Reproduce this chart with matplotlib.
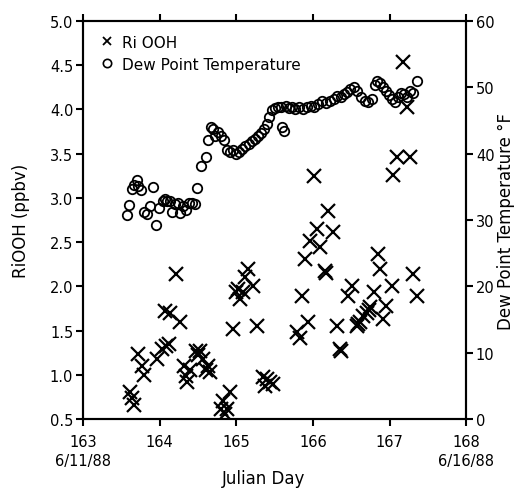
"""RiOOH and dew point temperature vs Julian day."""

import matplotlib
matplotlib.use("Agg")
import matplotlib.pyplot as plt
from matplotlib.lines import Line2D

# RiOOH (ppbv)
rooh_day = [
    163.61, 163.64, 163.67, 163.72, 163.77, 163.80, 163.97, 164.03, 164.07, 164.09,
    164.12, 164.14, 164.21, 164.27, 164.32, 164.35, 164.36, 164.40, 164.48, 164.50,
    164.53, 164.56, 164.60, 164.63, 164.66,
    164.80, 164.83, 164.85, 164.88, 164.92, 164.96, 165.00, 165.02, 165.05, 165.09,
    165.11, 165.15, 165.22, 165.27, 165.35, 165.37, 165.40, 165.44, 165.48,
    165.79, 165.83, 165.86, 165.90, 165.94, 165.96, 166.02, 166.05, 166.09, 166.16,
    166.17, 166.20, 166.26, 166.32, 166.35, 166.37, 166.46, 166.51,
    166.57, 166.59, 166.62, 166.66, 166.70, 166.73, 166.75, 166.80, 166.85, 166.88,
    166.92, 166.96, 167.03, 167.05, 167.10, 167.18, 167.23, 167.27, 167.31, 167.36,
]
rooh_ppbv = [
    0.81, 0.74, 0.66, 1.23, 1.10, 1.00, 1.18, 1.29, 1.72, 1.33,
    1.35, 1.70, 2.14, 1.60, 1.10, 0.99, 0.92, 1.05, 1.27, 1.22,
    1.27, 1.18, 1.05, 1.10, 1.03,
    0.61, 0.70, 0.56, 0.61, 0.81, 1.52, 1.94, 1.97, 1.86, 1.94,
    2.11, 2.20, 2.00, 1.55, 0.97, 0.87, 0.95, 0.92, 0.90,
    1.48, 1.42, 1.89, 2.31, 1.60, 2.51, 3.25, 2.65, 2.44, 2.17,
    2.15, 2.85, 2.61, 1.55, 1.29, 1.27, 1.89, 2.00,
    1.55, 1.57, 1.60, 1.66, 1.70, 1.73, 1.77, 1.94, 2.37, 2.20,
    1.63, 1.78, 2.00, 3.26, 3.46, 4.54, 4.03, 3.46, 2.14, 1.89,
]

# dew point temperature (deg F)
dew_day = [
    163.58, 163.60, 163.64, 163.67, 163.70, 163.72, 163.76, 163.79, 163.84, 163.87,
    163.91, 163.95, 163.99, 164.04, 164.07, 164.10, 164.14, 164.16, 164.20, 164.24,
    164.27, 164.31, 164.34, 164.38, 164.42, 164.46, 164.49, 164.54, 164.60, 164.63,
    164.67, 164.70, 164.72, 164.76, 164.80, 164.84, 164.88, 164.92, 164.96, 165.00,
    165.04, 165.08, 165.12, 165.16, 165.20, 165.24, 165.28, 165.32, 165.36, 165.40,
    165.43, 165.46, 165.50, 165.60, 165.62, 165.54, 165.58, 165.65, 165.69, 165.73,
    165.77, 165.82, 165.87, 165.92, 165.97, 166.02, 166.07, 166.12, 166.17, 166.22,
    166.27, 166.32, 166.37, 166.41, 166.45, 166.49, 166.53, 166.58, 166.63, 166.68,
    166.72, 166.77, 166.81, 166.84, 166.88, 166.91, 166.95, 166.99, 167.03, 167.07,
    167.11, 167.15, 167.19, 167.23, 167.27, 167.31, 167.36,
]
dew_temp = [
    30.8, 32.2, 34.7, 35.3, 36.0, 35.2, 34.6, 31.2, 30.9, 32.1,
    35.0, 29.2, 31.8, 32.9, 33.2, 32.8, 32.9, 31.2, 32.4, 32.5,
    31.1, 32.1, 31.5, 32.5, 32.6, 32.4, 34.8, 38.1, 39.5, 42.1,
    44.0, 43.7, 42.7, 43.3, 42.6, 42.1, 40.6, 40.3, 40.6, 40.0,
    40.3, 40.7, 41.2, 41.5, 41.9, 42.2, 42.7, 43.1, 43.7, 44.5,
    45.6, 46.6, 46.9, 44.0, 43.4, 47.1, 47.0, 47.2, 46.9, 47.0,
    46.8, 47.0, 46.7, 47.1, 47.2, 47.0, 47.5, 47.9, 47.6, 48.0,
    48.3, 48.7, 48.6, 49.0, 49.3, 49.8, 50.0, 49.4, 48.6, 48.0,
    47.8, 48.3, 50.4, 51.0, 50.6, 50.0, 49.4, 48.8, 48.2, 47.8,
    48.6, 49.2, 49.0, 48.6, 49.4, 49.2, 50.9,
]

day_ticks = [163, 164, 165, 166, 167, 168]
left_ticks = [0.5, 1.0, 1.5, 2.0, 2.5, 3.0, 3.5, 4.0, 4.5, 5.0]
right_ticks = [0, 10, 20, 30, 40, 50, 60]


def main() -> int:
    fig = plt.figure(figsize=(5.25, 4.89), dpi=100)
    ax = fig.add_axes([0.158, 0.141, 0.730, 0.814])
    ax2 = ax.twinx()

    ax.plot(rooh_day, rooh_ppbv, linestyle="none", marker="x", ms=10, mew=1.6,
            color="black", zorder=3)
    ax2.plot(dew_day, dew_temp, linestyle="none", marker="o", ms=6.8, mew=1.3,
             mfc="none", mec="black", zorder=3)

    ax.set_xlim(163, 168)
    ax.set_ylim(0.5, 5.0)
    ax2.set_ylim(0, 60)

    ax.set_xticks(day_ticks)
    ax.set_xticklabels([str(d) for d in day_ticks])
    ax.set_yticks(left_ticks)
    ax.set_yticklabels([f"{v:.1f}" for v in left_ticks])
    ax2.set_yticks(right_ticks)

    for a in (ax, ax2):
        for sp in a.spines.values():
            sp.set_linewidth(1.5)
        a.tick_params(direction="out", length=5, width=1.5, labelsize=10.5, pad=2)
    ax.tick_params(axis="x", top=True, pad=6)

    ax.set_ylabel("RiOOH (ppbv)", fontsize=12, labelpad=14)
    ax2.set_ylabel("Dew Point Temperature °F", fontsize=12, labelpad=2)
    ax.set_xlabel("Julian Day", fontsize=12)
    ax.xaxis.set_label_coords(0.47, -0.125)

    ax.text(163, -0.085, "6/11/88", transform=ax.get_xaxis_transform(),
            ha="center", va="top", fontsize=10.5)
    ax.text(168, -0.085, "6/16/88", transform=ax.get_xaxis_transform(),
            ha="center", va="top", fontsize=10.5)

    handles = [
        Line2D([], [], linestyle="none", marker="x", ms=6, mew=1.3, color="black"),
        Line2D([], [], linestyle="none", marker="o", ms=6, mew=1.2, mfc="none", mec="black"),
    ]
    ax.legend(handles, ["Ri OOH", "Dew Point Temperature"], loc="upper left",
              bbox_to_anchor=(0.01, 1.0), frameon=False, fontsize=11,
              handlelength=0.8, handletextpad=0.6, labelspacing=0.45)

    fig.savefig("out.png", dpi=100)
    plt.close(fig)
    return 0


if __name__ == "__main__":
    raise SystemExit(main())
